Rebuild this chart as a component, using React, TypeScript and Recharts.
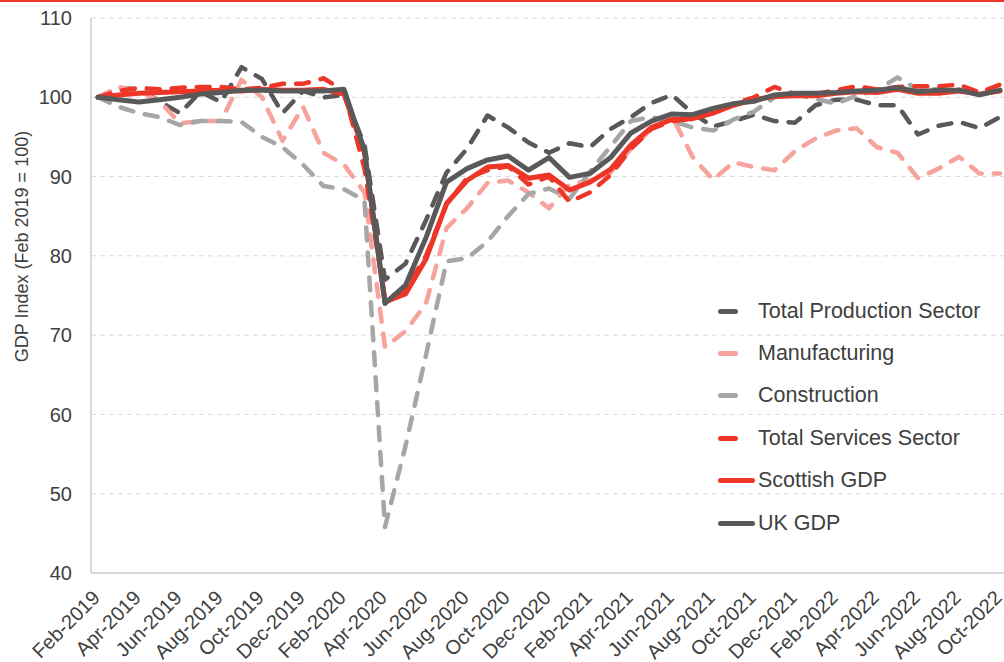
import React from "react";
import { LineChart, Line, XAxis, YAxis, CartesianGrid } from "recharts";

const FONT = '"Liberation Sans", Arial, sans-serif';
const TEXT = "#404040";

// Monthly categories, Feb 2019 .. Oct 2022
const months = [
  "Feb-2019", "Mar-2019", "Apr-2019", "May-2019", "Jun-2019", "Jul-2019", "Aug-2019", "Sep-2019",
  "Oct-2019", "Nov-2019", "Dec-2019", "Jan-2020", "Feb-2020", "Mar-2020", "Apr-2020", "May-2020",
  "Jun-2020", "Jul-2020", "Aug-2020", "Sep-2020", "Oct-2020", "Nov-2020", "Dec-2020", "Jan-2021",
  "Feb-2021", "Mar-2021", "Apr-2021", "May-2021", "Jun-2021", "Jul-2021", "Aug-2021", "Sep-2021",
  "Oct-2021", "Nov-2021", "Dec-2021", "Jan-2022", "Feb-2022", "Mar-2022", "Apr-2022", "May-2022",
  "Jun-2022", "Jul-2022", "Aug-2022", "Sep-2022", "Oct-2022",
];

const production = [
  100, 101.2, 101.0, 99.5, 98.0, 100.7, 99.4, 103.8, 102.3, 98.0, 100.8, 100.0, 100.3, 94.0, 77.0,
  79.0, 84.5, 90.5, 93.5, 97.7, 96.2, 94.3, 93.0, 94.2, 93.7, 96.0, 97.5, 99.3, 100.3, 98.0, 96.3,
  97.0, 97.8, 97.0, 96.8, 99.0, 99.7, 99.7, 99.0, 99.0, 95.3, 96.4, 96.9, 96.1, 97.5,
];

const manufacturing = [
  100, 101.3, 100.8, 99.5, 96.7, 97.0, 97.0, 102.2, 100.0, 94.5, 98.8, 93.0, 91.5, 88.0, 68.5,
  70.5, 74.0, 83.5, 86.0, 89.2, 89.5, 88.0, 86.0, 89.0, 89.5, 90.5, 93.5, 96.0, 97.6, 92.5, 89.6,
  91.8, 91.2, 90.8, 93.2, 94.8, 95.8, 96.1, 93.7, 93.0, 89.8, 91.0, 92.5, 90.4, 90.4,
];

const construction = [
  100, 98.8, 98.0, 97.5, 96.5, 97.0, 97.0, 96.9, 95.0, 93.7, 91.5, 88.8, 88.4, 87.0, 45.8,
  56.0, 67.5, 79.3, 79.7, 81.8, 85.0, 87.8, 88.5, 87.2, 90.6, 93.8, 97.0, 97.5, 97.0, 96.2, 95.8,
  97.2, 98.2, 100.0, 100.4, 99.8, 99.2, 100.2, 100.9, 102.5, 101.0, 101.0, 101.0, 100.5, 100.8,
];

const services = [
  100, 100.8, 101.2, 101.0, 101.2, 101.3, 101.3, 101.0, 101.2, 101.7, 101.7, 102.4, 100.8, 91.0,
  74.5, 75.8, 80.0, 86.5, 89.8, 90.8, 91.3, 89.0, 90.0, 86.8, 88.0, 90.2, 93.5, 96.0, 97.0, 97.3,
  98.0, 99.2, 100.0, 101.3, 100.4, 100.4, 100.9, 101.4, 101.0, 101.3, 101.4, 101.4, 101.6, 100.6,
  101.6,
];

const scottishGdp = [
  100, 100.3, 100.5, 100.6, 100.7, 100.8, 100.9, 100.8, 101.0, 100.9, 100.9, 101.0, 100.4, 93.0,
  74.2, 75.2, 79.6, 86.6, 89.5, 91.2, 91.4, 89.8, 90.2, 88.3, 89.3, 90.9, 94.0, 96.2, 97.2, 97.3,
  98.0, 99.0, 99.7, 100.1, 100.2, 100.2, 100.5, 100.7, 100.6, 101.0, 100.5, 100.5, 100.8, 100.4,
  100.8,
];

const ukGdp = [
  100, 99.7, 99.4, 99.7, 100.0, 100.4, 100.6, 100.9, 100.9, 100.8, 100.8, 100.8, 101.0, 93.3, 74.0,
  76.3, 82.3, 89.3, 91.0, 92.1, 92.6, 90.8, 92.4, 89.9, 90.4, 92.4, 95.5, 97.0, 97.9, 97.8, 98.6,
  99.2, 99.5, 100.3, 100.5, 100.5, 100.6, 100.8, 100.9, 101.2, 100.7, 100.9, 100.9, 100.3, 100.9,
];

const yTicks = [40, 50, 60, 70, 80, 90, 100, 110];

const series = [
  { key: "production", name: "Total Production Sector", color: "#595959", dashed: true },
  { key: "manufacturing", name: "Manufacturing", color: "#F5A39C", dashed: true },
  { key: "construction", name: "Construction", color: "#A6A6A6", dashed: true },
  { key: "services", name: "Total Services Sector", color: "#EE3628", dashed: true },
  { key: "scottish", name: "Scottish GDP", color: "#EE3628", dashed: false },
  { key: "uk", name: "UK GDP", color: "#595959", dashed: false },
];

const data = months.map((month, i) => ({
  month,
  production: production[i],
  manufacturing: manufacturing[i],
  construction: construction[i],
  services: services[i],
  scottish: scottishGdp[i],
  uk: ukGdp[i],
}));

const MonthTick = ({ x, y, payload }: any) => {
  const tx = x + 3;
  return (
    <text
      x={tx}
      y={y}
      transform={`rotate(-45, ${tx}, ${y})`}
      textAnchor="end"
      fontSize={20}
      fontFamily={FONT}
      fill={TEXT}
    >
      {payload.value}
    </text>
  );
};

const AxisTitle = ({ viewBox }: any) => {
  const cx = viewBox.x + 22;
  const cy = viewBox.y + viewBox.height / 2 - 49;
  return (
    <text
      x={cx}
      y={cy}
      transform={`rotate(-90, ${cx}, ${cy})`}
      textAnchor="middle"
      dominantBaseline="central"
      fontSize={18}
      fontFamily={FONT}
      fill={TEXT}
    >
      GDP Index (Feb 2019 = 100)
    </text>
  );
};

function ChartLegend() {
  return (
    <div
      style={{
        position: "absolute",
        left: 716,
        top: 290,
        fontFamily: FONT,
        fontSize: 21.5,
        color: TEXT,
      }}
    >
      {series.map((s) => (
        <div key={s.key} style={{ display: "flex", alignItems: "center", height: 42.4 }}>
          <div style={{ width: 42, display: "flex" }}>
            <div
              style={{
                marginLeft: 2,
                width: s.dashed ? 20 : 37,
                height: 5,
                borderRadius: 2.5,
                background: s.color,
              }}
            />
          </div>
          <span style={{ whiteSpace: "nowrap" }}>{s.name}</span>
        </div>
      ))}
    </div>
  );
}

export default function App() {
  return (
    <div
      style={{
        position: "absolute",
        left: 0,
        top: 0,
        width: 1004,
        height: 662,
        overflow: "hidden",
        background: "#fff",
      }}
    >
      <LineChart width={1012} height={662} data={data} margin={{ top: 18, right: 0, bottom: 0, left: 0 }}>
        <CartesianGrid vertical={false} stroke="#d9d9d9" strokeDasharray="5 4" />
        <XAxis
          dataKey="month"
          interval={1}
          height={89}
          padding={{ left: 7, right: 12 }}
          tickLine={false}
          tickSize={0}
          tickMargin={26}
          tick={<MonthTick />}
          axisLine={{ stroke: "#d9d9d9", strokeWidth: 2 }}
        />
        <YAxis
          domain={[40, 110]}
          ticks={yTicks}
          width={91}
          tickLine={false}
          tickSize={0}
          tickMargin={19}
          tick={{ fontSize: 20, fill: TEXT, fontFamily: FONT }}
          axisLine={{ stroke: "#d9d9d9", strokeWidth: 2 }}
          label={<AxisTitle />}
        />
        {series.map((s) => (
          <Line
            key={s.key}
            type="linear"
            dataKey={s.key}
            name={s.name}
            stroke={s.color}
            strokeWidth={s.dashed ? 4.5 : 5}
            strokeDasharray={s.dashed ? "13 12" : undefined}
            strokeLinecap="round"
            strokeLinejoin="round"
            dot={false}
            activeDot={false}
            isAnimationActive={false}
          />
        ))}
      </LineChart>
      <ChartLegend />
      <div
        style={{ position: "absolute", left: 0, top: 0, width: 1004, height: 2, background: "#EE3628" }}
      />
    </div>
  );
}
